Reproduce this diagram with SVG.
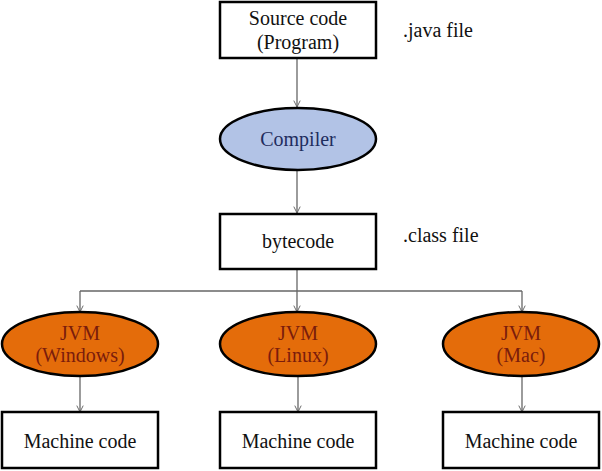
<svg xmlns="http://www.w3.org/2000/svg" width="602" height="471" viewBox="0 0 602 471" font-family="'Liberation Serif', 'DejaVu Serif', serif">
<style>
text{font-family:'Liberation Serif','DejaVu Serif',serif;font-size:20px;text-anchor:middle;fill:#111}
.lbl{text-anchor:start}
.box{fill:#fff;stroke:#000;stroke-width:2.5}
.comp{fill:#b2c3e6;stroke:#000;stroke-width:2.5}
.comp-t{fill:#1f2d5e}
.jvm{fill:#e46c0a;stroke:#000;stroke-width:2.5}
.jvm-t{fill:#7a1c0c}
.conn path{fill:none;stroke:#666;stroke-width:1.3}
</style>
<defs>
<marker id="arr" viewBox="0 0 10 10" refX="9" refY="5" markerWidth="8" markerHeight="8" markerUnits="userSpaceOnUse" orient="auto">
<path d="M1,1 L9,5 L1,9" fill="none" stroke="#666" stroke-width="1.2"/>
</marker>
</defs>
<rect width="602" height="471" fill="#fff"/>
<g class="conn">
<path d="M297,58 V107" marker-end="url(#arr)"/>
<path d="M297,170 V213" marker-end="url(#arr)"/>
<path d="M297,269 V312" marker-end="url(#arr)"/>
<path d="M80,291 H522"/>
<path d="M80,291 V312" marker-end="url(#arr)"/>
<path d="M522,291 V312" marker-end="url(#arr)"/>
<path d="M80,376 V412" marker-end="url(#arr)"/>
<path d="M298,376 V412" marker-end="url(#arr)"/>
<path d="M522,376 V412" marker-end="url(#arr)"/>
</g>
<g id="source">
<rect class="box" x="220" y="2" width="156" height="56"/>
<text x="298" y="25">Source code</text>
<text x="298" y="49">(Program)</text>
</g>
<text class="lbl" x="403" y="37">.java file</text>
<g id="compiler">
<ellipse class="comp" cx="298" cy="139" rx="78" ry="31"/>
<text class="comp-t" x="298" y="146">Compiler</text>
</g>
<g id="bytecode">
<rect class="box" x="220" y="214" width="156" height="55"/>
<text x="298" y="248">bytecode</text>
</g>
<text class="lbl" x="403" y="242">.class file</text>
<g id="jvm-windows">
<ellipse class="jvm" cx="80" cy="344" rx="78" ry="32"/>
<text class="jvm-t" x="80" y="340">JVM</text>
<text class="jvm-t" x="80" y="362">(Windows)</text>
</g>
<g id="jvm-linux">
<ellipse class="jvm" cx="298" cy="344" rx="78" ry="32"/>
<text class="jvm-t" x="298" y="340">JVM</text>
<text class="jvm-t" x="298" y="362">(Linux)</text>
</g>
<g id="jvm-mac">
<ellipse class="jvm" cx="521" cy="344" rx="78" ry="32"/>
<text class="jvm-t" x="521" y="340">JVM</text>
<text class="jvm-t" x="521" y="362">(Mac)</text>
</g>
<g id="mc-windows">
<rect class="box" x="2" y="412" width="156" height="56"/>
<text x="80" y="448">Machine code</text>
</g>
<g id="mc-linux">
<rect class="box" x="220" y="412" width="156" height="56"/>
<text x="298" y="448">Machine code</text>
</g>
<g id="mc-mac">
<rect class="box" x="443" y="412" width="156" height="56"/>
<text x="521" y="448">Machine code</text>
</g>
</svg>
